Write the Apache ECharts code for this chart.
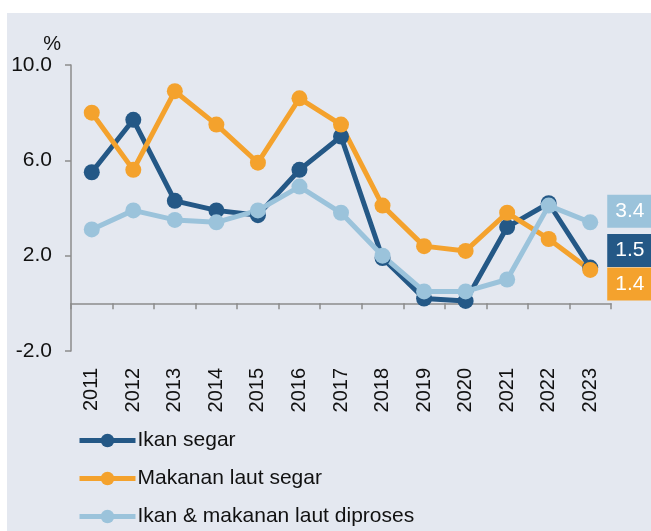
<!DOCTYPE html>
<html>
<head>
<meta charset="utf-8">
<script src="https://cdn.jsdelivr.net/npm/echarts@6/dist/echarts.min.js"></script>
<style>
  html, body { margin: 0; padding: 0; background: #fff; }
  #chart { width: 651px; height: 531px; }
</style>
</head>
<body>
<div id="chart"></div>
<script>
// data
const years = ["2011", "2012", "2013", "2014", "2015", "2016", "2017", "2018", "2019", "2020", "2021", "2022", "2023"];
const ikanSegar = [5.5, 7.7, 4.3, 3.9, 3.7, 5.6, 7.0, 1.9, 0.2, 0.1, 3.2, 4.2, 1.5];
const makananLautSegar = [8.0, 5.6, 8.9, 7.5, 5.9, 8.6, 7.5, 4.1, 2.4, 2.2, 3.8, 2.7, 1.4];
const ikanDiproses = [3.1, 3.9, 3.5, 3.4, 3.9, 4.9, 3.8, 2.0, 0.5, 0.5, 1.0, 4.1, 3.4];

const seriesNames = ["Ikan segar", "Makanan laut segar", "Ikan & makanan laut diproses"];
const colors = ["#245886", "#F4A22D", "#9BC3DB"];
// vertical shift of the end label boxes so they don't overlap
const endLabelShift = [-17, 14, -11];

const font = "'Liberation Sans', Arial, sans-serif";

function makeSeries(name, data, idx) {
  return {
    name: name,
    type: "line",
    data: data,
    xAxisIndex: 0,
    symbol: "circle",
    symbolSize: 16,
    animation: false,
    lineStyle: { width: 5, color: colors[idx] },
    itemStyle: { color: colors[idx] },
    endLabel: {
      show: true,
      formatter: (p) => p.value.toFixed(1),
      color: "#fff",
      fontFamily: font,
      fontSize: 21,
      backgroundColor: colors[idx],
      padding: [6, 9, 6, 8],
      distance: 17,
      offset: [0, endLabelShift[idx]],
    },
  };
}

const chart = echarts.init(document.getElementById("chart"), null, { renderer: "canvas" });

chart.setOption({
  backgroundColor: "#fff",
  textStyle: { fontFamily: font },
  graphic: [
    {
      type: "rect",
      z: -10,
      silent: true,
      shape: { x: 7, y: 13, width: 651, height: 531 },
      style: { fill: "#E4E8F0" },
    },
  ],
  grid: { left: 71, right: 40, top: 65, bottom: 180, containLabel: false },
  legend: {
    orient: "vertical",
    left: 77,
    top: 430,
    padding: 0,
    height: 110,
    itemGap: 17,
    itemWidth: 56,
    itemHeight: 17,
    lineStyle: { width: 5 },
    textStyle: { fontSize: 21, color: "#111", fontFamily: font, padding: [0, 0, 0, -3] },
    data: seriesNames,
  },
  xAxis: [
    {
      type: "category",
      data: years,
      boundaryGap: true,
      axisLine: { onZero: true, lineStyle: { color: "#8c8c8c", width: 1.5 } },
      axisTick: { show: true, length: 6, lineStyle: { color: "#8c8c8c", width: 1.5 } },
      axisLabel: { show: false },
    },
    {
      type: "category",
      data: years,
      position: "bottom",
      boundaryGap: true,
      axisLine: { show: false },
      axisTick: { show: false },
      axisLabel: {
        rotate: 90,
        interval: 0,
        margin: 17,
        fontSize: 20,
        color: "#111",
        fontFamily: font,
      },
    },
  ],
  yAxis: {
    type: "value",
    min: -2,
    max: 10,
    interval: 4,
    name: "%",
    nameLocation: "end",
    nameGap: 8,
    nameTextStyle: { fontSize: 20, color: "#111", fontFamily: font, align: "right", padding: [0, 10, 0, 0] },
    axisLine: { show: true, lineStyle: { color: "#8c8c8c", width: 1.5 } },
    axisTick: { show: true, length: 6, lineStyle: { color: "#8c8c8c", width: 1.5 } },
    axisLabel: {
      fontSize: 21,
      color: "#111",
      fontFamily: font,
      margin: 19,
      formatter: (v) => v.toFixed(1),
    },
    splitLine: { show: false },
  },
  series: [
    makeSeries(seriesNames[0], ikanSegar, 0),
    makeSeries(seriesNames[1], makananLautSegar, 1),
    makeSeries(seriesNames[2], ikanDiproses, 2),
  ],
});
</script>
</body>
</html>
